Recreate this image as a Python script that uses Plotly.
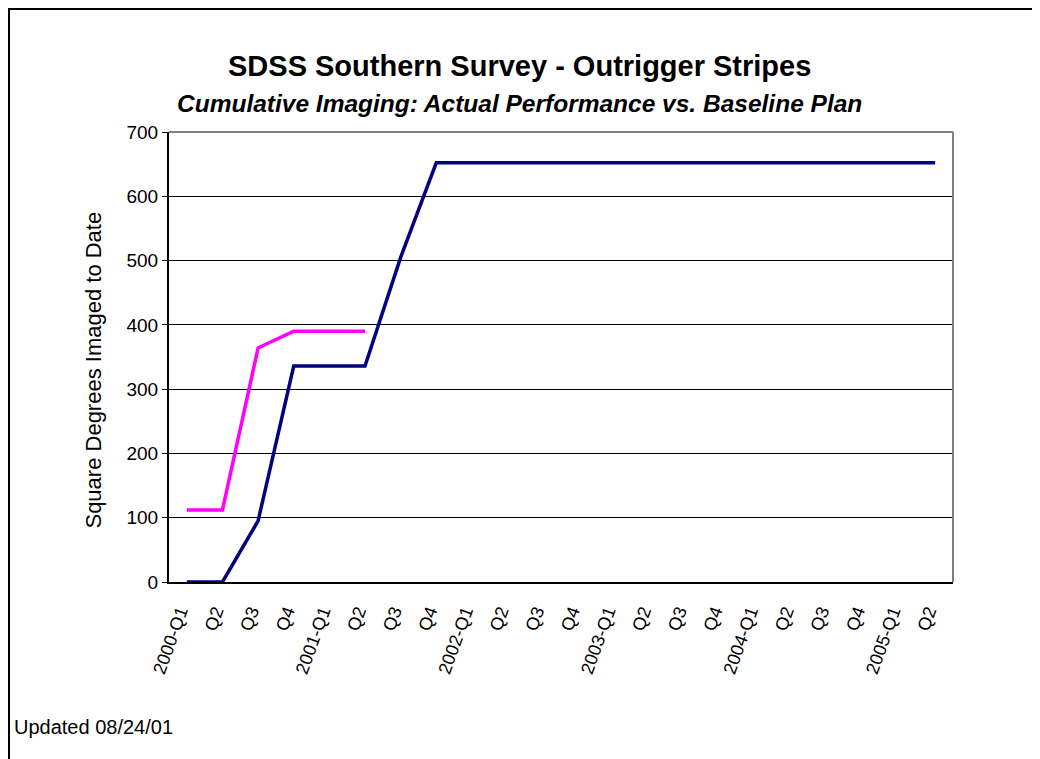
import plotly.graph_objects as go

# quarters shown on the x axis
quarters = ["2000-Q1", "Q2", "Q3", "Q4",
            "2001-Q1", "Q2", "Q3", "Q4",
            "2002-Q1", "Q2", "Q3", "Q4",
            "2003-Q1", "Q2", "Q3", "Q4",
            "2004-Q1", "Q2", "Q3", "Q4",
            "2005-Q1", "Q2"]
baseline_plan = [0, 0, 95, 336, 336, 336, 505, 652, 652, 652, 652, 652,
                 652, 652, 652, 652, 652, 652, 652, 652, 652, 652]
actual = [112, 112, 364, 390, 390, 390]
y_ticks = [0, 100, 200, 300, 400, 500, 600, 700]

idx = list(range(len(quarters)))
font = "Arial, Liberation Sans, sans-serif"

fig = go.Figure()
fig.add_trace(go.Scatter(x=idx, y=baseline_plan, mode="lines", name="Baseline Plan",
                         line=dict(color="#000080", width=3.5)))
fig.add_trace(go.Scatter(x=idx[:len(actual)], y=actual, mode="lines", name="Actual",
                         line=dict(color="#FF00FF", width=3.5)))

fig.update_layout(
    width=1040, height=759,
    margin=dict(l=161, r=95, t=124, b=185),
    paper_bgcolor="white", plot_bgcolor="white",
    showlegend=False,
    font=dict(family=font, size=19, color="black"),
    xaxis=dict(range=[-0.5, len(quarters) - 0.5], tickvals=idx, ticktext=quarters,
               tickangle=-70, ticks="", showgrid=False, zeroline=False,
               showline=True, linecolor="black", linewidth=2,
               tickfont=dict(size=18), ticklabelstandoff=10, ticklabelshift=-7),
    yaxis=dict(range=[0, 700], tickvals=y_ticks, ticks="outside", ticklen=5,
               tickcolor="black", showgrid=True, gridcolor="black", gridwidth=1,
               zeroline=False, showline=True, linecolor="black", linewidth=2,
               tickfont=dict(size=19)),
)

# gray top/right frame of the plot area
fig.add_shape(type="line", xref="paper", yref="paper", x0=0, x1=1, y0=1, y1=1,
              line=dict(color="#808080", width=2))
fig.add_shape(type="line", xref="paper", yref="paper", x0=1, x1=1, y0=0, y1=1,
              line=dict(color="#808080", width=2))
# outer chart border
fig.add_shape(type="rect", xref="paper", yref="paper",
              x0=-0.2041, x1=1.14, y0=-0.43, y1=1.2733,
              line=dict(color="black", width=2))

fig.add_annotation(text="<b>SDSS Southern Survey - Outrigger Stripes</b>",
                   xref="paper", yref="paper", x=0.4477, y=1.1867,
                   showarrow=False, font=dict(size=29))
fig.add_annotation(text="<b><i>Cumulative Imaging: Actual Performance vs. Baseline Plan</i></b>",
                   xref="paper", yref="paper", x=0.4477, y=1.0978,
                   showarrow=False, font=dict(size=24.5))
fig.add_annotation(text="Square Degrees Imaged to Date", textangle=-90,
                   xref="paper", yref="paper", x=-0.1148, y=0.471,
                   showarrow=False, font=dict(size=22))
fig.add_annotation(text="Updated 08/24/01", xref="paper", yref="paper",
                   x=-0.2003, y=-0.351, xanchor="left", showarrow=False,
                   font=dict(size=20))

fig.write_html("out.html")
